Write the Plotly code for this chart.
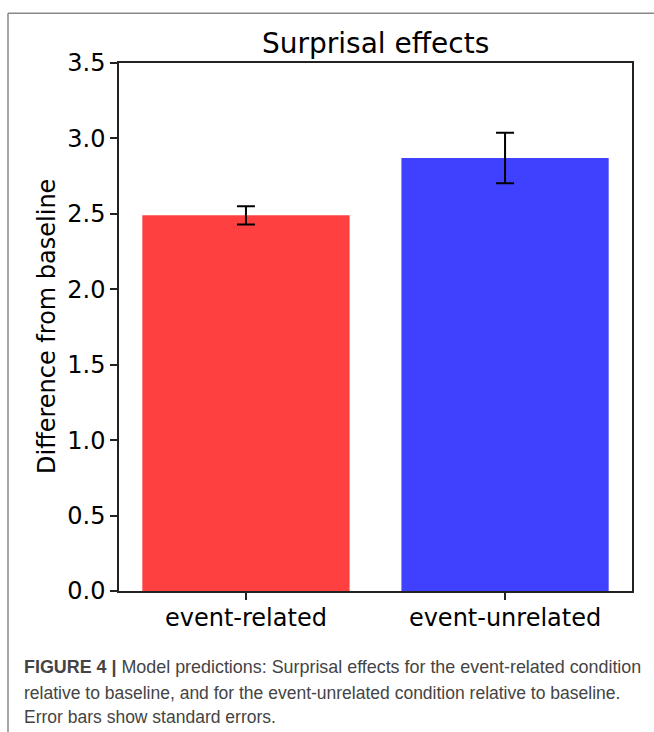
import plotly.graph_objects as go

categories = ["event-related", "event-unrelated"]
values = [2.49, 2.87]
errors = [0.06, 0.167]
bar_colors = ["#ff4040", "#4040ff"]
y_ticks = [0.0, 0.5, 1.0, 1.5, 2.0, 2.5, 3.0, 3.5]
y_tick_labels = ["0.0", "0.5", "1.0", "1.5", "2.0", "2.5", "3.0", "3.5"]
title_text = "Surprisal effects"
y_title = "Difference from baseline"
caption_lines = [
    "<b>FIGURE 4 |</b> Model predictions: Surprisal effects for the event-related condition",
    "relative to baseline, and for the event-unrelated condition relative to baseline.",
    "Error bars show standard errors.",
]

W, H = 654, 732
L, R, T, B = 119, 632, 62.5, 591
pw, ph = R - L, B - T

def px(x):
    return (x - L) / pw

def py(y):
    return (B - y) / ph

fig = go.Figure()
fig.add_trace(go.Bar(
    x=categories, y=values, width=0.8,
    marker=dict(color=bar_colors, line=dict(width=0)),
    error_y=dict(type="data", array=errors, visible=True, color="black", thickness=2, width=9),
))

font_main = "DejaVu Sans"
fig.update_layout(
    width=W, height=H,
    margin=dict(l=L, r=W - R, t=T, b=H - B),
    paper_bgcolor="white", plot_bgcolor="white",
    showlegend=False,
    font=dict(family=font_main, size=24, color="black"),
    xaxis=dict(
        range=[-0.49, 1.49], showgrid=False, zeroline=False,
        showline=True, linecolor="#222", linewidth=1.5, mirror=True,
        ticks="outside", ticklen=7, tickwidth=1.5, tickcolor="#222",
        ticklabelstandoff=-3,
        tickfont=dict(family=font_main, size=24, color="black"),
    ),
    yaxis=dict(
        range=[0, 3.5], showgrid=False, zeroline=False,
        tickvals=y_ticks, ticktext=y_tick_labels,
        showline=True, linecolor="#222", linewidth=1.5, mirror=True,
        ticks="outside", ticklen=7, tickwidth=1.5, tickcolor="#222",
        tickfont=dict(family=font_main, size=24, color="black"),
    ),
)

annotations = [
    dict(text=title_text, xref="paper", yref="paper", x=0.5, y=py(43),
         xanchor="center", yanchor="middle", showarrow=False,
         font=dict(family=font_main, size=28, color="black")),
    dict(text=y_title, xref="paper", yref="paper", x=px(47), y=0.5,
         xanchor="center", yanchor="middle", showarrow=False, textangle=-90,
         font=dict(family=font_main, size=24, color="black")),
]
caption_y = [667, 693, 717]
caption_sizes = [17.9, 17.5, 17.5]
for line, yy, fs in zip(caption_lines, caption_y, caption_sizes):
    annotations.append(dict(
        text=line, xref="paper", yref="paper", x=px(22), y=py(yy),
        xanchor="left", yanchor="middle", showarrow=False,
        font=dict(family="Liberation Sans", size=fs, color="#444")))
fig.update_layout(annotations=annotations)

fig.add_shape(type="line", xref="paper", yref="paper",
              x0=px(8), x1=px(700), y0=py(12.7), y1=py(12.7),
              line=dict(color="#888", width=1.5))
fig.add_shape(type="line", xref="paper", yref="paper",
              x0=px(8), x1=px(8), y0=py(12.7), y1=py(760),
              line=dict(color="#888", width=1.5))

fig.write_html("out.html", config={"displayModeBar": False},
               post_script="document.body.style.margin='0';document.body.style.overflow='hidden';")
